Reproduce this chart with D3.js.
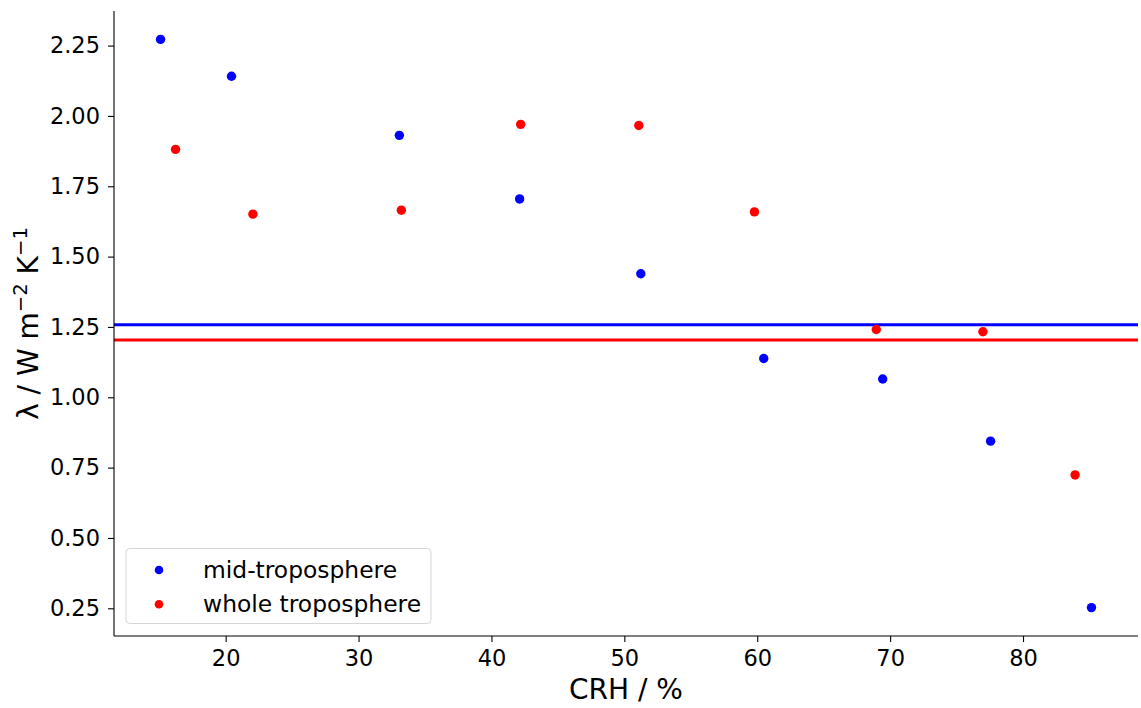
<!DOCTYPE html>
<html>
<head>
<meta charset="utf-8">
<script src="https://cdn.jsdelivr.net/npm/d3@7"></script>
<style>
  html, body { margin: 0; padding: 0; background: #fff; }
  svg { display: block; font-family: "DejaVu Sans", sans-serif; }
</style>
</head>
<body>
<svg id="chart" width="1141" height="708"></svg>
<script>
// Climate feedback parameter against column relative humidity
const midCRH     = [15.10, 20.44, 33.07, 42.12, 51.24, 60.49, 69.44, 77.56, 85.15];
const midLambda  = [2.272, 2.141, 1.931, 1.705, 1.439, 1.138, 1.065, 0.844, 0.2525];
const wholeCRH    = [16.23, 22.05, 33.22, 42.20, 51.09, 59.79, 68.96, 76.98, 83.92];
const wholeLambda = [1.881, 1.651, 1.665, 1.970, 1.966, 1.659, 1.241, 1.233, 0.724];
// Reference values drawn as horizontal lines
const midMean = 1.258;
const wholeMean = 1.204;

const xTicks = [20, 30, 40, 50, 60, 70, 80];
const yTicks = [0.25, 0.50, 0.75, 1.00, 1.25, 1.50, 1.75, 2.00, 2.25];

const seriesNames = ["mid-troposphere", "whole troposphere"];
const seriesColors = ["#0000ff", "#ff0000"];

const svg = d3.select("#chart");
const plot = { left: 114, right: 1138, top: 11, bottom: 636 };

// Autoscale limits with a 5% margin on each side
function padded(vals) {
  const lo = d3.min(vals), hi = d3.max(vals), m = (hi - lo) * 0.05;
  return [lo - m, hi + m];
}
const x = d3.scaleLinear()
  .domain(padded(midCRH.concat(wholeCRH)))
  .range([plot.left, plot.right]);
const y = d3.scaleLinear()
  .domain(padded(midLambda.concat(wholeLambda)))
  .range([plot.bottom, plot.top]);

// Horizontal reference lines
const means = [midMean, wholeMean];
svg.append("g").selectAll("line").data(means).join("line")
  .attr("x1", plot.left).attr("x2", plot.right)
  .attr("y1", d => y(d)).attr("y2", d => y(d))
  .attr("stroke", (d, i) => seriesColors[i])
  .attr("stroke-width", 3);

// Scatter points
const series = [
  midCRH.map((c, i) => ({ c, v: midLambda[i] })),
  wholeCRH.map((c, i) => ({ c, v: wholeLambda[i] }))
];
series.forEach((pts, si) => {
  svg.append("g").selectAll("circle").data(pts).join("circle")
    .attr("cx", d => x(d.c)).attr("cy", d => y(d.v))
    .attr("r", 4.7)
    .attr("fill", seriesColors[si]);
});

// Axes (left and bottom spines only)
const xAxis = svg.append("g")
  .attr("transform", `translate(0,${plot.bottom})`)
  .call(d3.axisBottom(x).tickValues(xTicks).tickFormat(d3.format("d")).tickSize(6).tickPadding(8));
const yAxis = svg.append("g")
  .attr("transform", `translate(${plot.left},0)`)
  .call(d3.axisLeft(y).tickValues(yTicks).tickFormat(d3.format(".2f")).tickSize(6).tickPadding(8));

[xAxis, yAxis].forEach(g => {
  g.select(".domain").attr("stroke", "#000").attr("stroke-width", 1.1);
  g.selectAll(".tick line").attr("stroke", "#000").attr("stroke-width", 1.1);
  g.selectAll(".tick text")
    .attr("fill", "#000")
    .style("font-family", "'DejaVu Sans', sans-serif")
    .style("font-size", "22.5px");
});
// The axis paths include outer ticks; redraw as plain spines
xAxis.select(".domain").attr("d", `M${plot.left},0H${plot.right}`);
yAxis.select(".domain").attr("d", `M0,${plot.top}V${plot.bottom}`);

// Axis titles
svg.append("text")
  .attr("x", (plot.left + plot.right) / 2)
  .attr("y", 699)
  .attr("text-anchor", "middle")
  .style("font-size", "28px")
  .attr("fill", "#000")
  .text("CRH / %");

const yl = svg.append("text")
  .attr("transform", `translate(37.5,${(plot.top + plot.bottom) / 2}) rotate(-90)`)
  .attr("text-anchor", "middle")
  .style("font-size", "28px")
  .attr("fill", "#000");
yl.append("tspan").text("λ / W m");
yl.append("tspan").attr("dy", -11).style("font-size", "19.6px").text("−2");
yl.append("tspan").attr("dy", 11).text(" K");
yl.append("tspan").attr("dy", -11).style("font-size", "19.6px").text("−1");

// Legend
const legend = svg.append("g");
legend.append("rect")
  .attr("x", 126).attr("y", 548.5)
  .attr("width", 305).attr("height", 75)
  .attr("rx", 4).attr("ry", 4)
  .attr("fill", "#fff").attr("fill-opacity", 0.8)
  .attr("stroke", "#d6d6d6").attr("stroke-width", 1);
const rows = legend.selectAll("g.row").data(seriesNames).join("g")
  .attr("class", "row")
  .attr("transform", (d, i) => `translate(0,${570 + i * 34.3})`);
rows.append("circle").attr("cx", 159).attr("cy", 0).attr("r", 4.3)
  .attr("fill", (d, i) => seriesColors[i]);
rows.append("text").attr("x", 203).attr("y", 7.8)
  .style("font-size", "23.4px").attr("fill", "#000")
  .text(d => d);
</script>
</body>
</html>
